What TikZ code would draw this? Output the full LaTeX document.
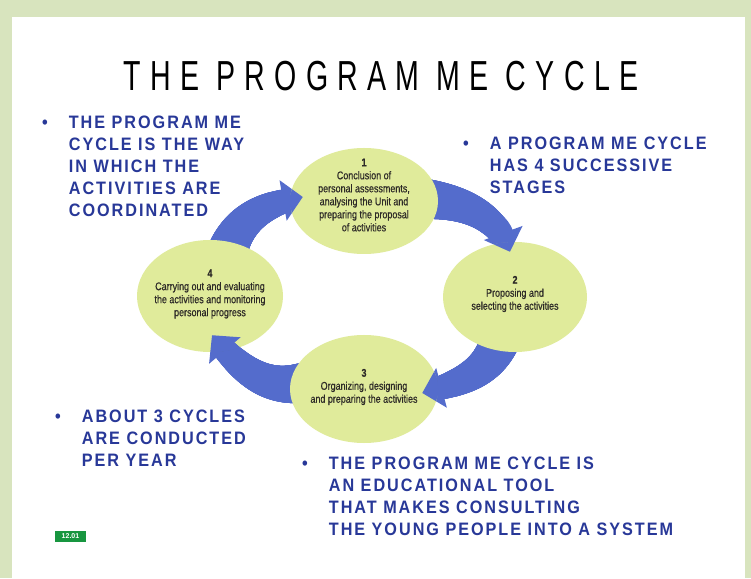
\documentclass[tikz,border=0pt]{standalone}
\usepackage{fontspec}
\setmainfont{Liberation Sans}
\newfontfamily\titlefont{Liberation Sans}[FakeStretch=0.68,LetterSpace=22]
\newfontfamily\notefont{Liberation Sans}[FakeStretch=0.9,LetterSpace=11]
\newfontfamily\stagefont{Liberation Sans}[FakeStretch=0.8,FakeBold=0.5]
\usetikzlibrary{arrows.meta,backgrounds,calc,shapes.geometric,decorations.markings}
\definecolor{framegreen}{RGB}{216,228,190}
\definecolor{stagefill}{RGB}{224,235,155}
\definecolor{cycleblue}{RGB}{84,108,204}
\definecolor{noteblue}{RGB}{40,56,152}
\definecolor{badgegreen}{RGB}{24,150,64}
\tikzset{
  stage/.style={ellipse, fill=stagefill, inner sep=0pt},
  stagetext/.style={align=center, inner sep=0pt, text=black!90!olive, font=\stagefont\fontsize{11.2}{13}\selectfont},
  cyc/.style={draw=cycleblue, line width=20pt, -{Triangle[width=40pt,length=20pt]},
    decoration={markings, mark=between positions 0 and -20pt step 1pt with {%
      \pgfmathsetmacro\bandr{20-10*\pgfkeysvalueof{/pgf/decoration/mark info/distance from start}/\pgfdecoratedpathlength}%
      \fill[cycleblue] (0,0) circle (\bandr pt);}},
    postaction={decorate}},
  note/.style={anchor=base west, inner sep=0pt, text=noteblue, font=\notefont\bfseries\fontsize{18}{22}\selectfont}
}
\begin{document}
\begin{tikzpicture}[x=1pt,y=1pt]
\useasboundingbox (0,0) rectangle (751,578);

\node[font=\titlefont\fontsize{42}{42}\selectfont] (title) at (381,502) {THE PROGRAM ME CYCLE};

% the four stages
\node[stage, minimum width=148, minimum height=106] (s1) at (364,377) {};
\node[stage, minimum width=144, minimum height=110] (s2) at (515,281) {};
\node[stage, minimum width=148, minimum height=108] (s3) at (364,189) {};
\node[stage, minimum width=146, minimum height=112] (s4) at (210,282) {};

\begin{pgfonlayer}{background}
\fill[framegreen] (0,0) rectangle (751,578);
\fill[white] (12,0) rectangle (745,561);
\draw[cyc] ($(s1.east)+(-12,2)$) to[out=-5,in=110] ($(s2.north)+(-5,-10)$);
\draw[cyc] ($(s2.south)+(-15,12)$) to[out=-110,in=15] ($(s3.east)+(-16,-4)$);
\draw[cyc] ($(s3.west)+(12,6)$) to[out=190,in=-50] ($(s4.south)+(2,17)$);
\draw[cyc] ($(s4.north)+(18,-10)$) to[out=70,in=190] ($(s1.west)+(13,4)$);
\end{pgfonlayer}

% heads lie over the next stage
\begin{scope}
\clip (s2.center) ellipse [x radius=72, y radius=55];
\draw[cyc] ($(s1.east)+(-12,2)$) to[out=-5,in=110] ($(s2.north)+(-5,-10)$);
\end{scope}
\begin{scope}
\clip (s3.center) ellipse [x radius=74, y radius=54];
\draw[cyc] ($(s2.south)+(-15,12)$) to[out=-110,in=15] ($(s3.east)+(-16,-4)$);
\end{scope}
\begin{scope}
\clip (s4.center) ellipse [x radius=73, y radius=56];
\draw[cyc] ($(s3.west)+(12,6)$) to[out=190,in=-50] ($(s4.south)+(2,17)$);
\end{scope}
\begin{scope}
\clip (s1.center) ellipse [x radius=74, y radius=53];
\draw[cyc] ($(s4.north)+(18,-10)$) to[out=70,in=190] ($(s1.west)+(13,4)$);
\end{scope}

\node[stagetext] (t1) at ($(s1)+(0,6)$) {\textbf{1}\\Conclusion of\\personal assessments,\\analysing the Unit and\\preparing the proposal\\of activities};
\node[stagetext] (t2) at ($(s2)+(0,3)$) {\textbf{2}\\Proposing and\\selecting the activities};
\node[stagetext] (t3) at ($(s3)+(0,2)$) {\textbf{3}\\Organizing, designing\\and preparing the activities};
\node[stagetext] (t4) at ($(s4)+(0,2)$) {\textbf{4}\\Carrying out and evaluating\\the activities and monitoring\\personal progress};

% notes
\node[note] (n1) at (42,449.5) {\begin{tabular}[t]{@{}l@{\hspace{21pt}}l@{}}\textbullet & THE PROGRAM ME\\ & CYCLE IS THE WAY\\ & IN WHICH THE\\ & ACTIVITIES ARE\\ & COORDINATED\end{tabular}};
\node[note] (n2) at (463,428.5) {\begin{tabular}[t]{@{}l@{\hspace{21pt}}l@{}}\textbullet & A PROGRAM ME CYCLE\\ & HAS 4 SUCCESSIVE\\ & STAGES\end{tabular}};
\node[note] (n3) at (55,155.5) {\begin{tabular}[t]{@{}l@{\hspace{21pt}}l@{}}\textbullet & ABOUT 3 CYCLES\\ & ARE CONDUCTED\\ & PER YEAR\end{tabular}};
\node[note] (n4) at (302,108.5) {\begin{tabular}[t]{@{}l@{\hspace{21pt}}l@{}}\textbullet & THE PROGRAM ME CYCLE IS\\ & AN EDUCATIONAL TOOL\\ & THAT MAKES CONSULTING\\ & THE YOUNG PEOPLE INTO A SYSTEM\end{tabular}};

\node[fill=badgegreen, text=white, font=\bfseries\fontsize{7}{7}\selectfont, minimum width=31, minimum height=11, inner sep=1pt] (badge) at (70.5,41.5) {12.01};
\end{tikzpicture}
\end{document}
